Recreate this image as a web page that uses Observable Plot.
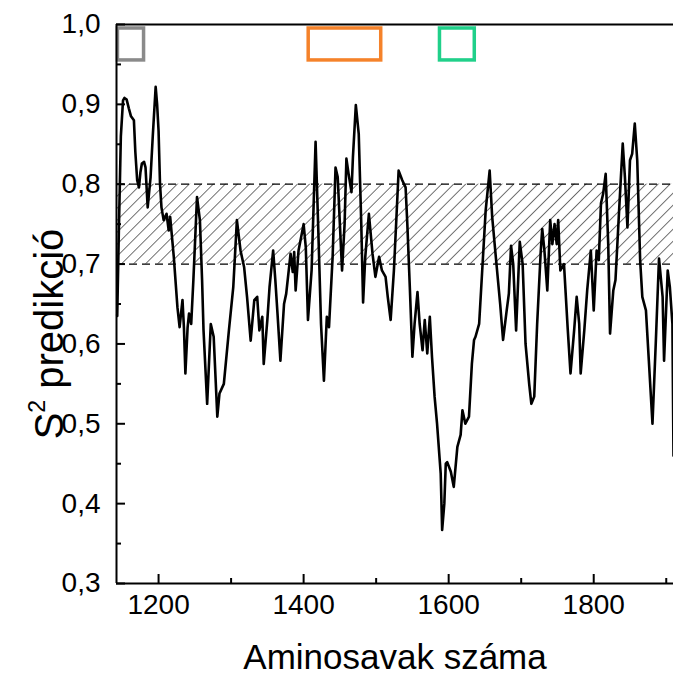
<!DOCTYPE html>
<html>
<head>
<meta charset="utf-8">
<script src="https://cdn.jsdelivr.net/npm/d3@7"></script>
<script src="https://cdn.jsdelivr.net/npm/@observablehq/plot@0.6"></script>
<style>
  html, body { margin: 0; padding: 0; background: #ffffff; }
  #chart svg { display: block; }
</style>
</head>
<body>
<div id="chart"></div>
<script>
// ---- data ----
const residues = [1143,1145,1148,1151,1153,1156,1159,1162,1166,1168,1170.5,1173,1175,1177,1180,1182,1185,1189,1192,1196,1198,1200,1202,1204,1207,1211,1214,1216,1221,1226,1229,1233,1235,1237,1240,1242,1245,1248,1253,1257,1260,1262,1267,1272,1276,1281,1284,1290,1297,1303,1308,1313,1318,1322,1327,1332,1336,1339,1343,1345,1350,1353,1358,1361,1364,1368,1373,1376,1382,1385,1387,1389,1393,1400,1403,1406,1411,1414,1416.5,1420,1424,1428,1432,1435,1440,1444,1447,1450,1453,1456.5,1459,1462,1466,1468,1472,1476,1479.5,1482,1485,1490,1495,1499,1504,1508,1513,1516,1520,1524.5,1528,1531,1536,1540.6,1543,1546.6,1550,1553,1557,1560,1564,1567,1570.5,1574,1577,1580.6,1584,1589,1591,1594,1596,1598,1603,1607,1612,1616.5,1619,1623,1628,1632,1635,1637,1642,1646.5,1651,1656.5,1660,1665,1671,1675,1680,1683,1686,1689,1693,1698,1702,1706,1711,1714,1718,1722,1727,1729,1732,1736,1740,1743,1746,1749,1751,1754,1759,1764,1768,1773,1776.5,1780,1782,1787,1791,1796,1800,1804,1807,1810,1813,1816.5,1820,1822.5,1827,1830,1835,1840,1843,1846.5,1850,1853,1856.6,1860,1864,1867,1872,1876,1881,1885.5,1890,1895,1897,1902,1905,1908.5,1910];
const s2 = [0.635,0.73,0.86,0.905,0.908,0.906,0.895,0.885,0.880,0.84,0.805,0.796,0.815,0.826,0.828,0.821,0.771,0.809,0.86,0.922,0.90,0.867,0.80,0.771,0.755,0.763,0.742,0.759,0.709,0.646,0.621,0.655,0.62,0.563,0.62,0.638,0.625,0.680,0.784,0.755,0.68,0.617,0.525,0.625,0.609,0.509,0.538,0.550,0.617,0.671,0.755,0.717,0.696,0.659,0.604,0.655,0.659,0.617,0.634,0.575,0.630,0.671,0.717,0.680,0.638,0.579,0.650,0.663,0.713,0.69,0.715,0.667,0.717,0.750,0.721,0.630,0.692,0.78,0.853,0.750,0.625,0.554,0.634,0.621,0.709,0.821,0.809,0.75,0.692,0.750,0.832,0.813,0.790,0.834,0.899,0.863,0.750,0.652,0.709,0.763,0.713,0.684,0.709,0.692,0.684,0.659,0.630,0.692,0.759,0.817,0.805,0.796,0.750,0.667,0.584,0.625,0.665,0.625,0.592,0.630,0.588,0.634,0.584,0.534,0.500,0.438,0.367,0.40,0.450,0.452,0.440,0.421,0.471,0.486,0.517,0.500,0.509,0.575,0.605,0.609,0.625,0.696,0.767,0.817,0.759,0.709,0.650,0.605,0.642,0.663,0.723,0.700,0.617,0.728,0.700,0.600,0.550,0.525,0.534,0.625,0.717,0.744,0.717,0.667,0.755,0.725,0.750,0.725,0.755,0.692,0.700,0.621,0.563,0.617,0.659,0.625,0.563,0.617,0.667,0.717,0.642,0.717,0.705,0.776,0.788,0.813,0.725,0.613,0.667,0.680,0.767,0.851,0.809,0.746,0.830,0.838,0.876,0.830,0.705,0.659,0.642,0.579,0.500,0.600,0.707,0.659,0.579,0.692,0.671,0.625,0.46];

const xDomain = [1142, 1910];
const yDomain = [0.3, 1.0];
const xTicks = [1200, 1400, 1600, 1800];
const xMinorTicks = [1300, 1500, 1700, 1900];
const yTicks = [0.3, 0.4, 0.5, 0.6, 0.7, 0.8, 0.9, 1.0];
const yMinorTicks = [0.35, 0.45, 0.55, 0.65, 0.75, 0.85, 0.95];
const bandLimits = [0.7, 0.8];

const boxStart = [1144, 1407, 1588];
const boxEnd = [1180, 1507, 1636];
const boxTop = 0.995;
const boxBottom = 0.955;
const boxColors = ["#8a8a8a", "#f5822a", "#20d08a"];

const xTitle = "Aminosavak száma";
const yTitleMain = "S";
const yTitleSup = "2";
const yTitleRest = " predikció";

// ---- build ----
const series = residues.map((r, i) => ({r, s: s2[i]}));
const band = [{x1: xDomain[0], x2: xDomain[1], lo: bandLimits[0], hi: bandLimits[1]}];
const boxes = boxStart.map((b, i) => ({x1: b, x2: boxEnd[i], y1: boxBottom, y2: boxTop, c: boxColors[i]}));
const fmt = d => d.toFixed(1).replace(".", ",");
const FONT = "Arial, 'Liberation Sans', sans-serif";

const svg = Plot.plot({
  width: 673,
  height: 679,
  marginLeft: 116,
  marginRight: 0,
  marginTop: 24,
  marginBottom: 96,
  x: {domain: xDomain},
  y: {domain: yDomain},
  color: {type: "identity"},
  style: {fontFamily: FONT, fontSize: "28px", color: "black", background: "white", overflow: "visible"},
  marks: [
    Plot.rect(band, {x1: "x1", x2: "x2", y1: "lo", y2: "hi", fill: "url(#hatch)"}),
    Plot.ruleY(bandLimits, {stroke: "black", strokeWidth: 1.2, strokeDasharray: "8,5"}),
    Plot.line(series, {x: "r", y: "s", stroke: "black", strokeWidth: 2.6, strokeLinejoin: "round"}),
    Plot.rect(boxes, {x1: "x1", x2: "x2", y1: "y1", y2: "y2", stroke: "c", fill: "none", strokeWidth: 3.5}),
    // frame: top, left, bottom
    Plot.ruleY([yDomain[1]], {stroke: "black", strokeWidth: 2}),
    Plot.ruleY([yDomain[0]], {stroke: "black", strokeWidth: 2}),
    Plot.ruleX([xDomain[0]], {stroke: "black", strokeWidth: 2}),
    // inward ticks
    Plot.axisY({ticks: yTicks, tickSize: -9, tickFormat: () => "", strokeWidth: 2, label: null}),
    Plot.axisY({ticks: yMinorTicks, tickSize: -5, tickFormat: () => "", strokeWidth: 2, label: null}),
    Plot.axisX({ticks: xTicks, tickSize: -9, tickFormat: () => "", strokeWidth: 2, label: null}),
    Plot.axisX({ticks: xMinorTicks, tickSize: -5, tickFormat: () => "", strokeWidth: 2, label: null}),
    // tick labels
    Plot.axisY({ticks: yTicks, tickSize: 0, tickPadding: 16, tickFormat: fmt, label: null, ariaLabel: "y-labels"}),
    Plot.axisX({ticks: xTicks, tickSize: 0, tickPadding: 11, tickFormat: d => String(d), label: null, ariaLabel: "x-labels"}),
    Plot.text([xTitle], {frameAnchor: "bottom", dy: 74, lineAnchor: "middle", fontSize: 35, fill: "black"})
  ]
});

const s = d3.select(svg);
s.selectAll("g[aria-label='y-labels'] text, g[aria-label='x-labels'] text")
  .style("font-size", "28px");

const defs = s.insert("defs", ":first-child");
const pat = defs.append("pattern")
  .attr("id", "hatch")
  .attr("patternUnits", "userSpaceOnUse")
  .attr("width", 8.5)
  .attr("height", 8.5)
  .attr("patternTransform", "rotate(45)");
pat.append("line")
  .attr("x1", 0).attr("y1", 0).attr("x2", 0).attr("y2", 8.5)
  .attr("stroke", "black").attr("stroke-width", 1.1);

const yt = s.append("text")
  .attr("transform", "translate(63,334) rotate(-90)")
  .attr("text-anchor", "middle")
  .attr("fill", "black")
  .style("font-family", FONT)
  .style("font-size", "40px");
yt.append("tspan").text(yTitleMain);
yt.append("tspan").attr("dy", "-18px").style("font-size", "23px").text(yTitleSup);
yt.append("tspan").attr("dy", "18px").text(yTitleRest);

document.getElementById("chart").appendChild(svg);
</script>
</body>
</html>
